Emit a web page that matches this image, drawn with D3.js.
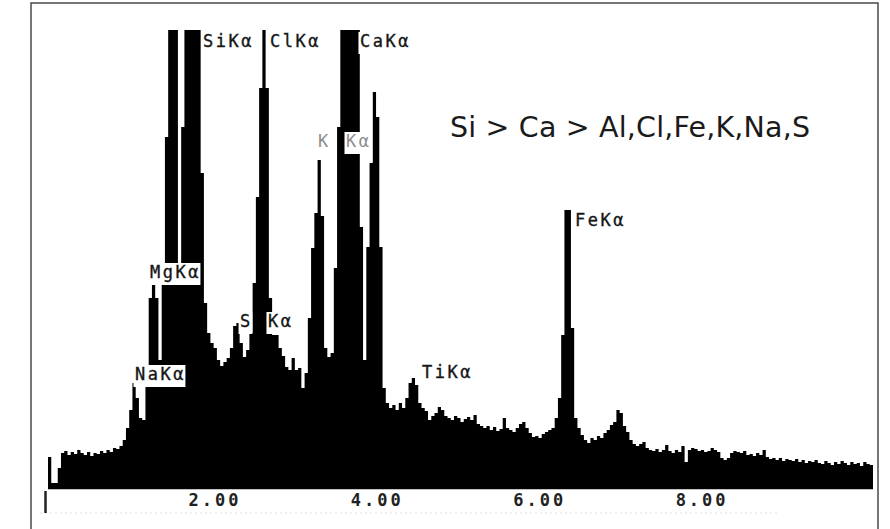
<!DOCTYPE html>
<html>
<head>
<meta charset="utf-8">
<script src="https://cdn.jsdelivr.net/npm/d3@7"></script>
<style>
  html, body { margin: 0; padding: 0; background: #fff; }
  svg { display: block; }
</style>
</head>
<body>
<svg id="chart" width="890" height="529"></svg>
<script>
// ---- data ----
const channelWidth = 0.04; // keV per channel
const counts = [
  31, 5, 5, 20, 35, 37, 33, 36, 34, 38,
  35, 33, 36, 32, 35, 34, 37, 35, 38, 36,
  40, 39, 42, 48, 60, 78, 105, 90, 70, 68,
  115, 190, 205, 190, 128, 220, 351, 470, 470, 470,
  215, 361, 470, 470, 470, 470, 470, 315, 185, 155,
  145, 140, 128, 122, 126, 130, 140, 162, 165, 145,
  131, 138, 155, 205, 291, 400, 470, 400, 190, 153,
  153, 140, 132, 121, 118, 130, 118, 120, 100, 115,
  170, 240, 275, 328, 272, 140, 131, 135, 220, 361,
  470, 470, 470, 470, 470, 470, 261, 128, 241, 325,
  396, 371, 241, 100, 85, 80, 83, 78, 85, 80,
  90, 105, 110, 103, 85, 80, 77, 68, 72, 75,
  81, 78, 72, 70, 68, 72, 70, 66, 69, 71,
  68, 73, 64, 62, 60, 62, 58, 61, 57, 59,
  70, 60, 58, 56, 60, 64, 66, 60, 55, 51,
  52, 50, 54, 56, 58, 60, 70, 90, 153, 278,
  278, 160, 70, 60, 53, 48, 45, 50, 48, 52,
  50, 55, 58, 63, 66, 78, 75, 62, 56, 48,
  44, 42, 44, 46, 40, 38, 37, 39, 36, 38,
  43, 37, 35, 38, 36, 42, 26, 38, 40, 39,
  37, 38, 36, 37, 40, 38, 36, 30, 28, 30,
  35, 37, 36, 35, 37, 33, 34, 32, 35, 33,
  38, 31, 29, 30, 28, 30, 27, 29, 28, 27,
  29, 26, 28, 25, 27, 26, 28, 25, 24, 27,
  25, 23, 26, 24, 27, 25, 23, 26, 24, 25,
  22, 26, 24, 23
];
const tickValues = [2, 4, 6, 8];
const tickLabels = ["2.00", "4.00", "6.00", "8.00"];
const peakLabels = ["SiKα", "ClKα", "CaKα", "K", "Kα", "MgKα", "NaKα", "S", "Kα", "TiKα", "FeKα"];
const peakLabelEnergy = [1.909, 2.734, 3.842, 3.325, 3.670, 1.256, 1.071, 2.365, 2.709, 4.606, 6.490];
const peakLabelCounts = [441, 441, 441, 341, 341, 210, 108, 161, 161, 110, 262];
const peakLabelGray = [false, false, false, true, true, false, false, false, false, false, false];
const summaryText = "Si > Ca > Al,Cl,Fe,K,Na,S";

// ---- scales ----
const svg = d3.select("#chart");
const nCh = counts.length;
const eMax = nCh * channelWidth;
const x = d3.scaleLinear().domain([0, eMax]).range([48, 48 + 81.2 * eMax]);
const yTop = 458;
const y = d3.scaleLinear().domain([0, yTop]).range([488, 30]);

// frame
svg.append("rect").attr("x", 31).attr("y", 3).attr("width", 847).attr("height", 540)
  .attr("fill", "none").attr("stroke", "#4a4a4a").attr("stroke-width", 1.5);

// faint dotted line
svg.append("line").attr("x1", 40).attr("x2", 780).attr("y1", 513).attr("y2", 513)
  .attr("stroke", "#e6dfd2").attr("stroke-width", 1).attr("stroke-dasharray", "2,3");

// spectrum
const pts = counts.map((c, i) => ({ e: i * channelWidth, c }));
pts.push({ e: eMax, c: counts[nCh - 1] });
const area = d3.area()
  .x(d => x(d.e))
  .y0(y(0))
  .y1(d => y(Math.min(d.c, yTop)))
  .curve(d3.curveStepAfter);
svg.append("path").datum(pts).attr("d", area).attr("fill", "#000");

// baseline
svg.append("line").attr("x1", x(0)).attr("x2", x(eMax)).attr("y1", 488.5).attr("y2", 488.5)
  .attr("stroke", "#000").attr("stroke-width", 1.5);

// axis
const axis = d3.axisBottom(x).tickValues(tickValues).tickSize(0)
  .tickFormat((d, i) => tickLabels[i]);
const gAxis = svg.append("g").attr("transform", "translate(0,492)").call(axis);
gAxis.select(".domain").remove();
gAxis.selectAll("text")
  .attr("dy", 0).attr("y", 14).attr("dx", 4)
  .attr("font-family", "DejaVu Sans Mono, monospace")
  .attr("font-weight", "bold").attr("font-size", 17)
  .attr("letter-spacing", "3px").attr("fill", "#222");
// zero tick mark
svg.append("line").attr("x1", x(0) - 2.5).attr("x2", x(0) - 2.5).attr("y1", 491).attr("y2", 513)
  .attr("stroke", "#222").attr("stroke-width", 2.5);

// peak labels
const gLab = svg.append("g");
peakLabels.forEach((t, i) => {
  const g = gLab.append("g");
  const txt = g.append("text")
    .attr("x", x(peakLabelEnergy[i]))
    .attr("y", y(peakLabelCounts[i]))
    .attr("font-family", "DejaVu Sans Mono, monospace")
    .attr("font-size", 17)
    .attr("letter-spacing", "2.5px")
    .attr("stroke", peakLabelGray[i] ? "none" : "#161616")
    .attr("stroke-width", 0.35)
    .attr("fill", peakLabelGray[i] ? "#8e8e8e" : "#161616")
    .text(t);
  const bb = txt.node().getBBox();
  g.insert("rect", "text")
    .attr("x", bb.x - 1.5).attr("y", bb.y + 1)
    .attr("width", bb.width + 1).attr("height", bb.height + 2)
    .attr("fill", "#fff");
});

// summary annotation
svg.append("text")
  .attr("x", 450).attr("y", 137)
  .attr("font-family", "'DejaVu Sans', sans-serif")
  .attr("font-size", 28.5)
  .attr("textLength", 360)
  .attr("fill", "#1a1a1a")
  .text(summaryText);
</script>
</body>
</html>
